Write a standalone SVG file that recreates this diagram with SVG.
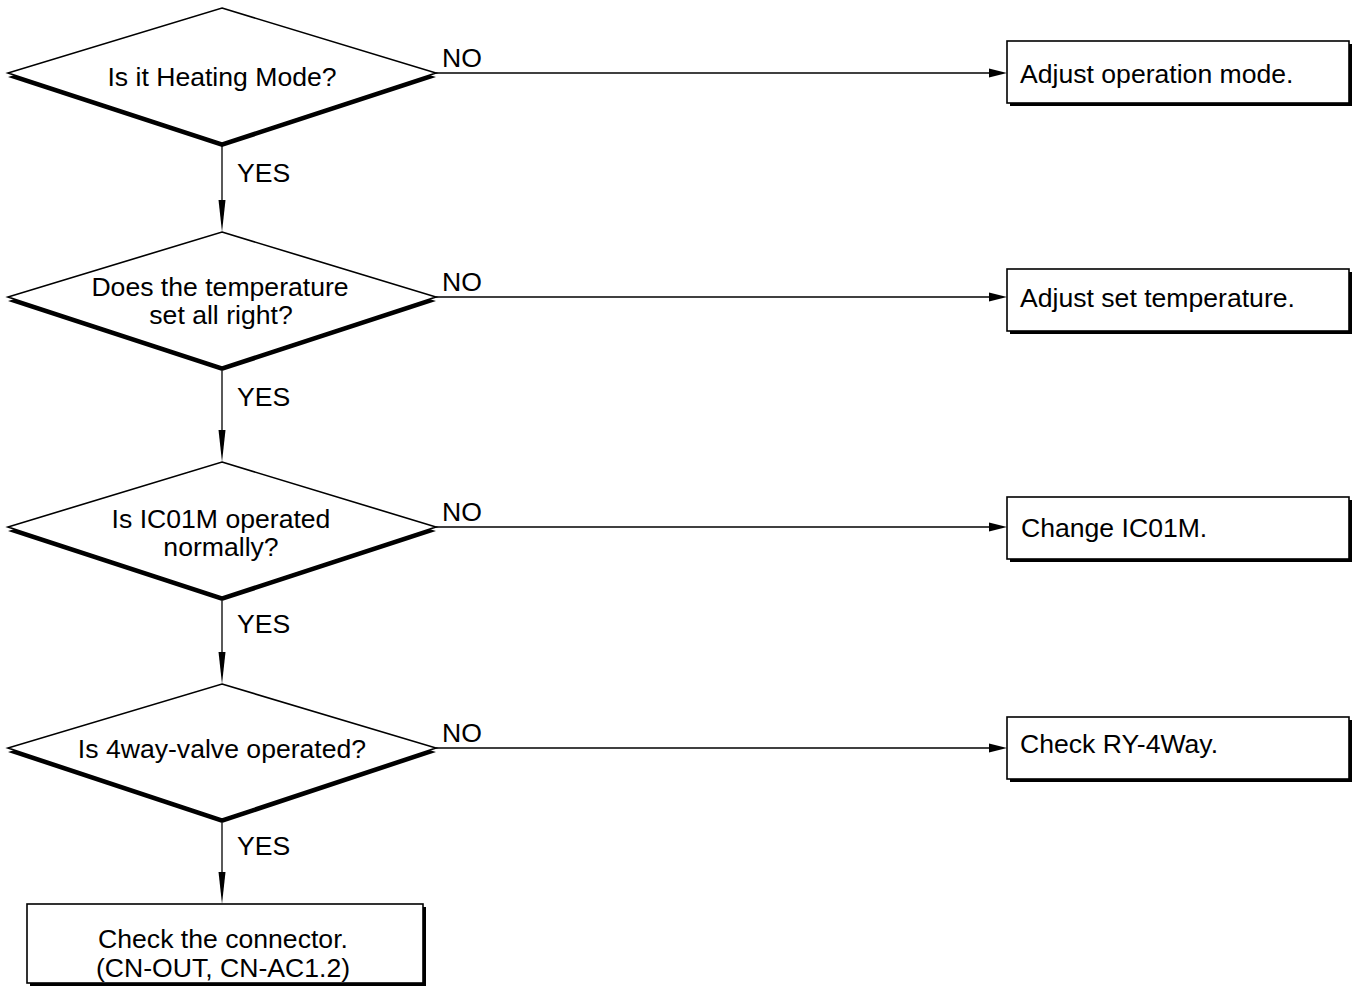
<svg xmlns="http://www.w3.org/2000/svg" width="1356" height="997" viewBox="0 0 1356 997">
<style>
text{font-family:"Liberation Sans",Arial,sans-serif;font-size:26.6px;fill:#000}
.c{text-anchor:middle}
.shape{fill:#fff;stroke:#000;stroke-width:1.6}
.shadow{fill:#000}
.line{stroke:#000;stroke-width:1.3;fill:none}
.ah{fill:#000}
</style>
<rect width="1356" height="997" fill="#fff"/>
<g id="connectors">
<path class="line" d="M222,146 V202"/><path class="ah" d="M218.5,200 L225.5,200 L222,232 Z"/>
<path class="line" d="M222,371 V432"/><path class="ah" d="M218.5,430 L225.5,430 L222,462 Z"/>
<path class="line" d="M222,601 V654"/><path class="ah" d="M218.5,652 L225.5,652 L222,684 Z"/>
<path class="line" d="M222,823 V874"/><path class="ah" d="M218.5,872 L225.5,872 L222,904 Z"/>
<path class="line" d="M436,73 H990"/><path class="ah" d="M989,68.5 L1007,73 L989,77.5 Z"/>
<path class="line" d="M436,297 H990"/><path class="ah" d="M989,292.5 L1007,297 L989,301.5 Z"/>
<path class="line" d="M436,527 H990"/><path class="ah" d="M989,522.5 L1007,527 L989,531.5 Z"/>
<path class="line" d="M436,748 H990"/><path class="ah" d="M989,743.5 L1007,748 L989,752.5 Z"/>
<text x="442" y="67">NO</text>
<text x="442" y="291">NO</text>
<text x="442" y="521">NO</text>
<text x="442" y="742">NO</text>
<text x="237" y="182">YES</text>
<text x="237" y="406">YES</text>
<text x="237" y="633">YES</text>
<text x="237" y="855">YES</text>
</g>
<g id="d1">
<polygon class="shadow" points="222,12 436,77 222,147 8,77"/>
<polygon class="shape" points="222,8 436,73 222,143 8,73"/>
<text class="c" x="222" y="86">Is it Heating Mode?</text>
</g>
<g id="d2">
<polygon class="shadow" points="222,236 436,301 222,371 8,301"/>
<polygon class="shape" points="222,232 436,297 222,367 8,297"/>
<text class="c" x="220" y="296">Does the temperature</text>
<text class="c" x="221" y="324">set all right?</text>
</g>
<g id="d3">
<polygon class="shadow" points="222,466 436,531 222,601 8,531"/>
<polygon class="shape" points="222,462 436,527 222,597 8,527"/>
<text class="c" x="221" y="528">Is IC01M operated</text>
<text class="c" x="221" y="556">normally?</text>
</g>
<g id="d4">
<polygon class="shadow" points="222,688 436,752 222,823 8,752"/>
<polygon class="shape" points="222,684 436,748 222,819 8,748"/>
<text class="c" x="222" y="758">Is 4way-valve operated?</text>
</g>
<g id="b1">
<rect class="shadow" x="1010" y="44" width="342" height="62"/>
<rect class="shape" x="1007" y="41" width="342" height="62"/>
<text x="1020" y="83">Adjust operation mode.</text>
</g>
<g id="b2">
<rect class="shadow" x="1010" y="272" width="342" height="62"/>
<rect class="shape" x="1007" y="269" width="342" height="62"/>
<text x="1020" y="307">Adjust set temperature.</text>
</g>
<g id="b3">
<rect class="shadow" x="1010" y="500" width="342" height="62"/>
<rect class="shape" x="1007" y="497" width="342" height="62"/>
<text x="1021" y="537">Change IC01M.</text>
</g>
<g id="b4">
<rect class="shadow" x="1010" y="720" width="342" height="62"/>
<rect class="shape" x="1007" y="717" width="342" height="62"/>
<text x="1020" y="753">Check RY-4Way.</text>
</g>
<g id="b5">
<rect class="shadow" x="30" y="907" width="396" height="79"/>
<rect class="shape" x="27" y="904" width="396" height="79"/>
<text class="c" x="223" y="948">Check the connector.</text>
<text class="c" x="223" y="977">(CN-OUT, CN-AC1.2)</text>
</g>
</svg>
